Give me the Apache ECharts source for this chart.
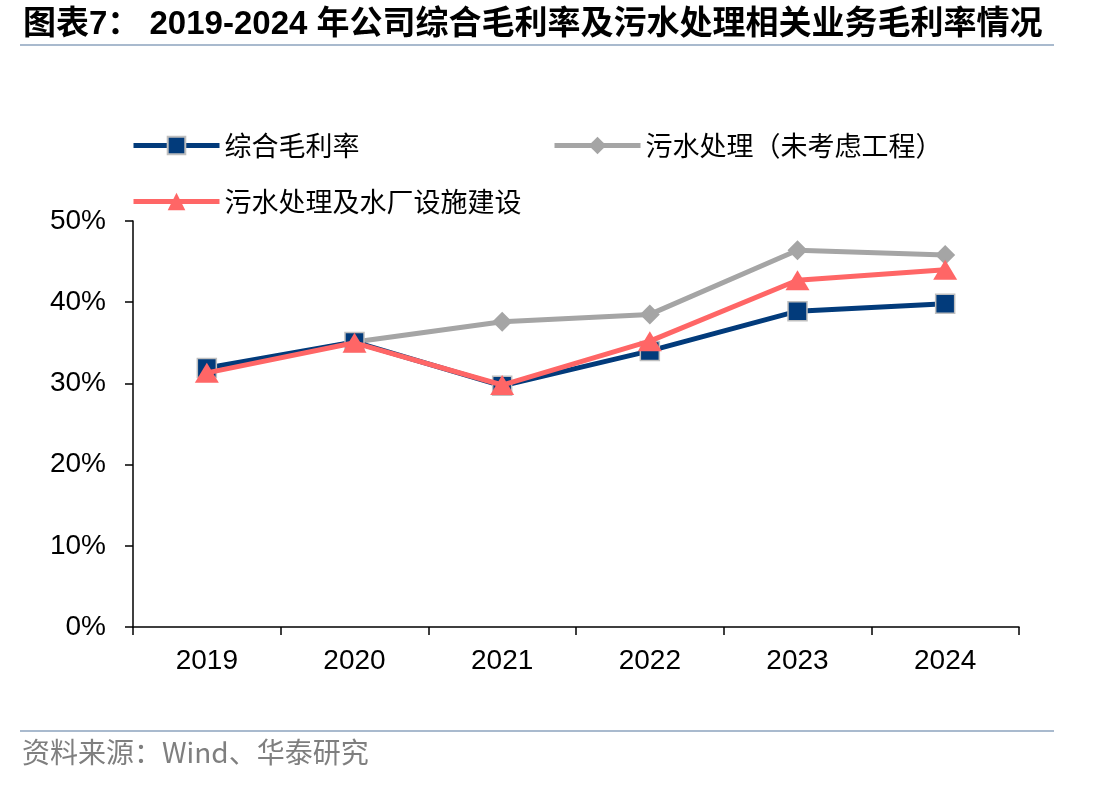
<!DOCTYPE html>
<html><head><meta charset="utf-8">
<script src="https://cdn.jsdelivr.net/npm/echarts@6/dist/echarts.min.js"></script>
<style>html,body{margin:0;padding:0;background:#fff}#c{width:1112px;height:786px}</style>
</head><body><div id="c"></div>
<script>
const categories = ['2019','2020','2021','2022','2023','2024'];
const yTicks = ['0%','10%','20%','30%','40%','50%'];
const nameA = '综合毛利率';
const nameB = '污水处理（未考虑工程）';
const nameC = '污水处理及水厂设施建设';
const seriesA = [31.9, 35.1, 29.7, 34.0, 38.9, 39.8];
const seriesB = [31.5, 35.1, 37.6, 38.5, 46.4, 45.8];
const seriesC = [31.3, 35.0, 29.8, 35.2, 42.7, 44.0];

const cjk = '"Noto Sans CJK SC", "Noto Sans", sans-serif';
const latin = '"Liberation Sans", Arial, sans-serif';
const chart = echarts.init(document.getElementById('c'));
const legendText = {fontSize: 27, color: '#000', fontFamily: cjk};
const legendCommon = {itemWidth: 86, itemHeight: 22, itemGap: 7, textStyle: legendText, lineStyle: {width: 5}};
chart.setOption({
  animation: false,
  title: {
    text: '图表7： 2019-2024 年公司综合毛利率及污水处理相关业务毛利率情况',
    left: 18, top: 3,
    textStyle: {fontSize: 33, fontWeight: 'bold', color: '#000', fontFamily: latin + ', ' + cjk}
  },
  graphic: [
    {type: 'rect', shape: {x: 20, y: 44, width: 1034, height: 2}, style: {fill: '#A9BACE'}},
    {type: 'rect', shape: {x: 20, y: 730, width: 1034, height: 2}, style: {fill: '#A9BACE'}},
    {type: 'text', left: 22, top: 738, style: {text: '资料来源：Wind、华泰研究', fontSize: 28, fill: '#7F7F7F', fontFamily: cjk}}
  ],
  legend: [
    Object.assign({data: [nameA], left: 126, top: 127}, legendCommon),
    Object.assign({data: [nameB], left: 547, top: 127}, legendCommon),
    Object.assign({data: [nameC], left: 126, top: 183}, legendCommon)
  ],
  grid: {left: 133, right: 93, top: 221, bottom: 159, containLabel: false},
  xAxis: {
    type: 'category', data: categories, boundaryGap: true,
    axisLine: {lineStyle: {color: '#000', width: 1.5}},
    axisTick: {show: true, inside: false, length: 8, alignWithLabel: false, lineStyle: {color: '#000', width: 1.5}},
    axisLabel: {fontSize: 28, color: '#000', margin: 20, fontFamily: latin}
  },
  yAxis: {
    type: 'value', min: 0, max: 50, interval: 10,
    axisLine: {show: true, lineStyle: {color: '#000', width: 1.5}},
    axisTick: {show: true, length: 8, lineStyle: {color: '#000', width: 1.5}},
    splitLine: {show: false},
    axisLabel: {fontSize: 28, color: '#000', margin: 27, fontFamily: latin,
      formatter: v => yTicks[Math.round(v / 10)]}
  },
  series: [
    {name: nameB, type: 'line', data: seriesB, z: 2, symbol: 'diamond', symbolSize: 20,
      lineStyle: {color: '#A5A5A5', width: 5}, itemStyle: {color: '#A5A5A5'}},
    {name: nameA, type: 'line', data: seriesA, z: 3, symbol: 'rect', symbolSize: 19,
      lineStyle: {color: '#023B7B', width: 5}, itemStyle: {color: '#023B7B', borderColor: '#BFBFBF', borderWidth: 1.5}},
    {name: nameC, type: 'line', data: seriesC, z: 4, symbol: 'triangle', symbolSize: [24, 20],
      lineStyle: {color: '#FF6666', width: 5}, itemStyle: {color: '#FF6666'}}
  ]
});
</script></body></html>
